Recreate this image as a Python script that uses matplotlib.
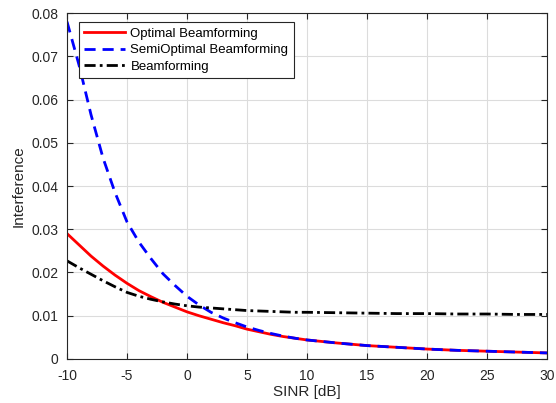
import matplotlib
matplotlib.use('Agg')
import matplotlib.pyplot as plt

plt.rcParams['font.family'] = ['Liberation Sans', 'DejaVu Sans']
plt.rcParams['axes.unicode_minus'] = False

# SINR [dB] sample points
sinr = [-10, -9, -8, -7, -6, -5, -4, -3, -2, -1, 0, 1, 2, 3, 4, 5, 6, 7, 8, 9, 10,
        12.5, 15, 17.5, 20, 22.5, 25, 27.5, 30]

optimal = [0.0290, 0.0264, 0.0238, 0.0215, 0.0194, 0.0175, 0.0158, 0.0144, 0.0131, 0.0120, 0.0109,
           0.0100, 0.0092, 0.0084, 0.0077, 0.0069, 0.0063, 0.0057, 0.0052, 0.0048, 0.0044,
           0.0037, 0.0031, 0.0027, 0.0023, 0.0020, 0.0018, 0.0016, 0.0014]

semi_optimal = [0.0780, 0.0680, 0.0565, 0.0465, 0.0385, 0.0317, 0.0270, 0.0232, 0.0197, 0.0170, 0.0145,
                0.0125, 0.0108, 0.0095, 0.0084, 0.0074, 0.0066, 0.0059, 0.0053, 0.0048, 0.0044,
                0.0037, 0.0031, 0.0027, 0.0023, 0.0020, 0.0018, 0.0016, 0.0014]

beamforming = [0.0227, 0.0211, 0.0196, 0.0181, 0.0167, 0.0154, 0.0145, 0.0138, 0.0132, 0.0127, 0.0123,
               0.0120, 0.0118, 0.0116, 0.0114, 0.0112, 0.0111, 0.0110, 0.0109, 0.0108, 0.0108,
               0.0107, 0.0106, 0.0105, 0.0105, 0.0104, 0.0104, 0.0103, 0.0103]

fig = plt.figure(figsize=(5.56, 4.03), dpi=100)
ax = fig.add_axes([0.1205, 0.1092, 0.8633, 0.8585])

ax.plot(sinr, optimal, color='#ff0000', lw=2, label='Optimal Beamforming')
ax.plot(sinr, semi_optimal, color='#0000ff', lw=2, ls=(0, (4, 2.5)), label='SemiOptimal Beamforming')
ax.plot(sinr, beamforming, color='black', lw=2, ls=(0, (4, 1.5, 1, 1.5)), label='Beamforming')

ax.set_xlim(-10, 30)
ax.set_ylim(0, 0.08)
ax.set_xticks(range(-10, 31, 5))
ax.set_yticks([0, 0.01, 0.02, 0.03, 0.04, 0.05, 0.06, 0.07, 0.08])
ax.set_yticklabels(['0', '0.01', '0.02', '0.03', '0.04', '0.05', '0.06', '0.07', '0.08'])
ax.grid(True, color='#dcdcdc', lw=0.8)
ax.set_axisbelow(True)
ax.tick_params(direction='in', top=True, right=True, labelsize=10, colors='#262626', length=4)
ax.tick_params(axis='x', pad=7)
ax.tick_params(axis='y', pad=6)
for s in ax.spines.values():
    s.set_color('#262626')
    s.set_linewidth(0.8)

ax.set_xlabel('SINR [dB]', fontsize=11, color='#262626', labelpad=2)
ax.set_ylabel('Interference', fontsize=11, color='#262626')

leg = ax.legend(loc='upper left', bbox_to_anchor=(0.025, 0.973), fontsize=9.5, frameon=True,
                fancybox=False, edgecolor='#262626', handlelength=3.1, borderpad=0.4,
                labelspacing=0.32, handletextpad=0.4, borderaxespad=0, framealpha=1)
leg.get_frame().set_linewidth(0.8)

fig.savefig('out.png', dpi=100)
